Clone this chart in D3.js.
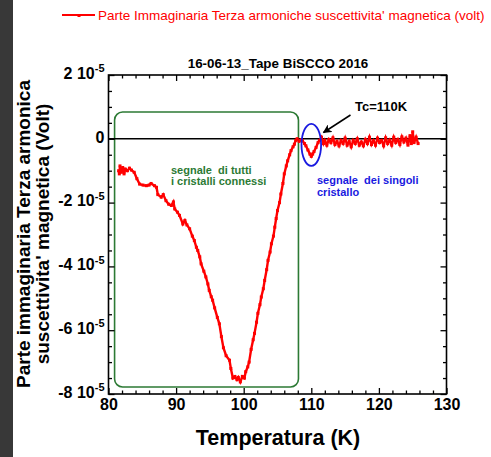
<!DOCTYPE html>
<html>
<head>
<meta charset="utf-8">
<script src="https://cdn.jsdelivr.net/npm/d3@7"></script>
<style>
  body { margin: 0; background: #fff; }
  svg { display: block; font-family: "Liberation Sans", Arial, Helvetica, sans-serif; }
</style>
</head>
<body>
<div id="chart"></div>
<script>
// Data (temperature in K, signal in units of 1e-5 V)
var temperature = [
  81.5, 81.6, 81.7, 81.9, 82.1, 82.3, 82.5, 82.8, 83.1, 83.4, 83.8, 84.2, 84.6, 85.1, 85.6,
  86.0, 86.3, 86.8, 87.1, 87.3, 87.8, 88.1, 88.5, 88.9, 89.3, 89.6, 89.8, 90.2, 90.5, 91.0,
  91.3, 91.6, 92.0, 92.4, 92.7, 93.0, 93.2, 93.5, 93.7, 94.1, 94.4, 94.7, 94.9, 95.2, 95.4,
  95.7, 96.1, 96.4, 96.7, 97.0, 97.4, 97.9, 98.1, 98.4, 98.7, 99.0, 99.2, 99.5, 99.8, 100.1,
  100.3, 100.6, 100.8, 101.1, 101.4, 101.6, 101.9, 102.1, 102.4, 102.6, 102.9, 103.1, 103.4, 103.6, 103.9,
  104.1, 104.4, 104.6, 104.8, 105.0, 105.3, 105.5, 105.8, 106.0, 106.3, 106.5, 106.8, 107.0, 107.3, 107.5,
  107.7, 107.9, 108.2, 108.5, 108.7, 109.0, 109.2, 109.5, 109.8, 110.0, 110.2, 110.4, 110.7, 111.0, 111.2,
  111.5, 111.8, 112.0, 112.3, 112.6, 112.9, 113.2, 113.5, 113.8, 114.1, 114.4, 114.7, 115.0, 115.3, 115.6,
  115.9, 116.2, 116.5, 116.8, 117.1, 117.4, 117.7, 118.0, 118.3, 118.6, 118.9, 119.2, 119.5, 119.8, 120.1,
  120.4, 120.7, 121.0, 121.3, 121.6, 121.9, 122.2, 122.5, 122.8, 123.1, 123.4, 123.7, 124.0, 124.3, 124.6,
  124.8, 125.0, 125.2, 125.5, 125.8
];
var signal = [
  -1.00, -1.10, -0.85, -1.05, -0.90, -1.10, -0.95, -1.00, -0.92, -0.98, -1.05, -1.25, -1.42, -1.45, -1.47,
  -1.45, -1.40, -1.47, -1.52, -1.75, -1.83, -1.75, -1.94, -2.05, -2.09, -1.98, -2.20, -2.30, -2.40, -2.67,
  -2.56, -2.70, -2.82, -3.05, -3.19, -3.40, -3.50, -3.70, -3.92, -4.15, -4.33, -4.55, -4.75, -4.95, -5.06,
  -5.30, -5.60, -5.80, -6.20, -6.55, -6.80, -6.94, -7.20, -7.50, -7.45, -7.55, -7.48, -7.62, -7.45, -7.50,
  -7.30, -7.15, -7.00, -6.60, -6.30, -6.10, -5.75, -5.47, -5.20, -4.96, -4.70, -4.44, -4.10, -3.81, -3.55,
  -3.29, -3.05, -2.77, -2.50, -2.25, -2.00, -1.73, -1.40, -1.10, -0.85, -0.69, -0.50, -0.37, -0.25, -0.17,
  -0.05, 0.00, -0.08, -0.03, -0.06, -0.15, -0.22, -0.35, -0.48, -0.55, -0.48, -0.40, -0.27, -0.12, -0.05,
  0.05, -0.15, -0.05, -0.20, -0.02, -0.12, 0.03, -0.18, -0.08, -0.22, -0.05, -0.15, 0.02, -0.20, -0.08,
  -0.25, -0.05, -0.15, 0.00, -0.20, -0.10, -0.22, -0.02, -0.15, 0.05, -0.18, -0.06, -0.20, 0.02, -0.12,
  -0.05, -0.22, 0.03, -0.15, -0.04, -0.20, 0.05, -0.12, -0.02, -0.18, 0.06, -0.10, 0.02, -0.20, 0.10,
  -0.15, 0.22, -0.12, 0.05, -0.15
];
var xTickLabels = [80, 90, 100, 110, 120, 130];
var yTickValues = [2, 0, -2, -4, -6, -8];

var svgWidth = 491;
var svgHeight = 457;

var margin = { top: 75, right: 44.5, bottom: 63, left: 108.5 };
var chartWidth = svgWidth - margin.left - margin.right;
var chartHeight = svgHeight - margin.top - margin.bottom;

var red = "#ff0000";
var green = "#2c7a34";
var blue = "#1a1ae0";

var svg = d3.select("#chart")
  .append("svg")
  .attr("width", svgWidth)
  .attr("height", svgHeight);

// dark strip on the left edge
svg.append("rect")
  .attr("x", 0).attr("y", 0)
  .attr("width", 13).attr("height", svgHeight)
  .attr("fill", "#383838");

var chartGroup = svg.append("g")
  .attr("transform", `translate(${margin.left}, ${margin.top})`);

var x = d3.scaleLinear().domain([80, 130]).range([0, chartWidth]);
var y = d3.scaleLinear().domain([-8, 2]).range([chartHeight, 0]);

// green rounded box
chartGroup.append("rect")
  .attr("x", x(80.9))
  .attr("y", y(0.84))
  .attr("width", x(108.1) - x(80.9))
  .attr("height", y(-7.78) - y(0.84))
  .attr("rx", 8)
  .attr("fill", "none")
  .attr("stroke", green)
  .attr("stroke-width", 1.6);

// zero line
chartGroup.append("line")
  .attr("x1", 0).attr("x2", chartWidth)
  .attr("y1", y(0)).attr("y2", y(0))
  .attr("stroke", "#000")
  .attr("stroke-width", 1.5);

// axes: major and minor ticks pointing inward on all four sides
function drawAxis(axis, transform) {
  var g = chartGroup.append("g")
    .attr("transform", transform)
    .call(axis);
  g.select(".domain").remove();
  g.selectAll(".tick line").attr("stroke-width", 1.3);
  return g;
}

var xMajor = d3.range(80, 131, 10);
var xMinor = d3.range(82, 130, 2).filter(d => d % 10 !== 0);
var yMajor = d3.range(-8, 2.1, 2);
var yMinor = d3.range(-7.5, 2, 0.5).filter(d => d % 2 !== 0);

var bottomG = drawAxis(d3.axisBottom(x).tickValues(xTickLabels).tickSizeInner(-6).tickSizeOuter(0).tickPadding(5),
  `translate(0, ${chartHeight})`);
bottomG.selectAll("text")
  .attr("font-size", 16).attr("font-weight", "bold").attr("fill", "#000")
  .attr("font-family", '"Liberation Sans", Arial, sans-serif');
drawAxis(d3.axisBottom(x).tickValues(xMinor).tickSizeInner(-3.5).tickSizeOuter(0).tickFormat(""),
  `translate(0, ${chartHeight})`);
drawAxis(d3.axisTop(x).tickValues(xMajor).tickSizeInner(-6).tickSizeOuter(0).tickFormat(""), "translate(0,0)");
drawAxis(d3.axisTop(x).tickValues(xMinor).tickSizeInner(-3.5).tickSizeOuter(0).tickFormat(""), "translate(0,0)");

var leftG = drawAxis(d3.axisLeft(y).tickValues(yTickValues).tickSizeInner(-6).tickSizeOuter(0).tickPadding(4).tickFormat(""),
  "translate(0,0)");
leftG.selectAll(".tick text").each(function(d) {
  var t = d3.select(this)
    .attr("font-size", 16).attr("font-weight", "bold").attr("fill", "#000")
    .attr("font-family", '"Liberation Sans", Arial, sans-serif')
    .attr("dy", "0.2em");
  if (d === 0) {
    t.text("0");
  } else {
    t.append("tspan").text(d + " 10");
    t.append("tspan").attr("font-size", 11).attr("dy", -6.5).text("-5");
  }
});
drawAxis(d3.axisLeft(y).tickValues(yMinor).tickSizeInner(-3.5).tickSizeOuter(0).tickFormat(""), "translate(0,0)");
drawAxis(d3.axisRight(y).tickValues(yMajor).tickSizeInner(-6).tickSizeOuter(0).tickFormat(""),
  `translate(${chartWidth}, 0)`);
drawAxis(d3.axisRight(y).tickValues(yMinor).tickSizeInner(-3.5).tickSizeOuter(0).tickFormat(""),
  `translate(${chartWidth}, 0)`);

// frame
chartGroup.append("rect")
  .attr("width", chartWidth).attr("height", chartHeight)
  .attr("fill", "none").attr("stroke", "#000").attr("stroke-width", 1.6);

// data line
var data = temperature.map((t, i) => ({ t: t, v: signal[i] }));
var line = d3.line().x(d => x(d.t)).y(d => y(d.v));

chartGroup.append("path")
  .datum(data)
  .attr("d", line)
  .attr("fill", "none")
  .attr("stroke", red)
  .attr("stroke-width", 2.4)
  .attr("stroke-linejoin", "miter");

chartGroup.selectAll(".pt")
  .data(data)
  .enter()
  .append("rect")
  .attr("class", "pt")
  .attr("x", d => x(d.t) - 1.5)
  .attr("y", d => y(d.v) - 1.5)
  .attr("width", 3).attr("height", 3)
  .attr("fill", red);

// blue ellipse around Tc
chartGroup.append("ellipse")
  .attr("cx", x(110.0))
  .attr("cy", y(-0.19))
  .attr("rx", x(111.45) - x(110.0))
  .attr("ry", y(-0.85) - y(-0.19))
  .attr("fill", "none")
  .attr("stroke", blue)
  .attr("stroke-width", 1.8);

// arrow to Tc
svg.append("defs").append("marker")
  .attr("id", "head")
  .attr("viewBox", "0 0 10 10")
  .attr("refX", 9).attr("refY", 5)
  .attr("markerWidth", 9).attr("markerHeight", 9)
  .attr("markerUnits", "userSpaceOnUse")
  .attr("orient", "auto")
  .append("path")
  .attr("d", "M0,0 L10,5 L0,10 L3,5 Z")
  .attr("fill", "#000");

svg.append("line")
  .attr("x1", 350.5).attr("y1", 115)
  .attr("x2", 323.5).attr("y2", 132.5)
  .attr("stroke", "#000")
  .attr("stroke-width", 1.5)
  .attr("marker-end", "url(#head)");

// annotations
svg.append("text")
  .attr("x", 355).attr("y", 110.5)
  .attr("font-size", 13).attr("font-weight", "bold")
  .text("Tc=110K");

var greenText = svg.append("text")
  .attr("font-size", 11).attr("font-weight", "bold").attr("fill", green)
  .attr("xml:space", "preserve");
greenText.append("tspan").attr("x", 171).attr("y", 173.5).text("segnale  di tutti");
greenText.append("tspan").attr("x", 171).attr("y", 184.5).text("i cristalli connessi");

var blueText = svg.append("text")
  .attr("font-size", 11).attr("font-weight", "bold").attr("fill", blue)
  .attr("xml:space", "preserve");
blueText.append("tspan").attr("x", 317).attr("y", 184.3).text("segnale  dei singoli");
blueText.append("tspan").attr("x", 317).attr("y", 195.5).text("cristallo");

// title
svg.append("text")
  .attr("x", 278).attr("y", 67.5)
  .attr("text-anchor", "middle")
  .attr("font-size", 13.4).attr("font-weight", "bold")
  .text("16-06-13_Tape BiSCCO 2016");

// axis titles
svg.append("text")
  .attr("x", 278).attr("y", 445)
  .attr("text-anchor", "middle")
  .attr("font-size", 21.5).attr("font-weight", "bold")
  .text("Temperatura (K)");

var yTitle = svg.append("text")
  .attr("transform", "translate(0, 234) rotate(-90)")
  .attr("text-anchor", "middle")
  .attr("font-size", 19).attr("font-weight", "bold");
yTitle.append("tspan").attr("x", 0).attr("y", 30).text("Parte immaginaria Terza armonica");
yTitle.append("tspan").attr("x", 0).attr("y", 48.5).text("suscettivita' magnetica (Volt)");

// legend
svg.append("line")
  .attr("x1", 62).attr("x2", 95)
  .attr("y1", 15).attr("y2", 15)
  .attr("stroke", red).attr("stroke-width", 2);
svg.append("rect")
  .attr("x", 77.5).attr("y", 14).attr("width", 3).attr("height", 3)
  .attr("fill", red);
svg.append("text")
  .attr("x", 98).attr("y", 19.5)
  .attr("font-size", 13.5).attr("fill", red)
  .text("Parte Immaginaria Terza armoniche suscettivita' magnetica (volt)");
</script>
</body>
</html>
